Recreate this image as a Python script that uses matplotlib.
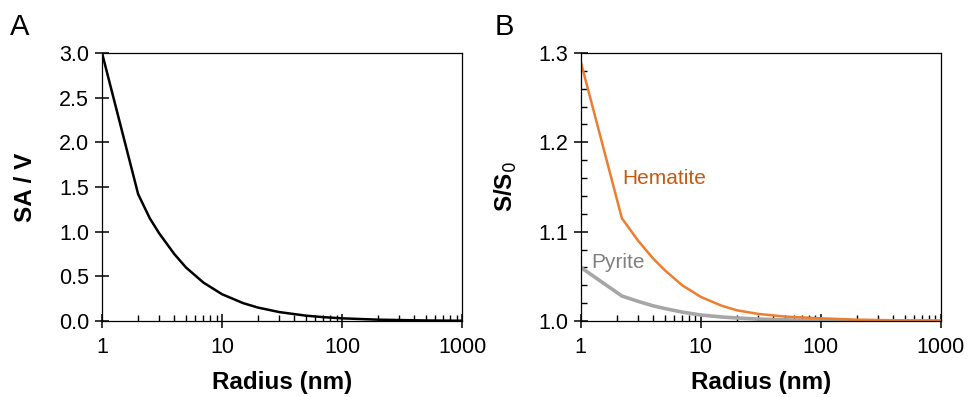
import numpy as np
import matplotlib
matplotlib.use('Agg')
import matplotlib.pyplot as plt
from matplotlib.ticker import FixedLocator, NullFormatter

plt.rcParams['font.family'] = ['Liberation Sans', 'DejaVu Sans']

# Panel A: surface area / volume vs radius
radius_a = [1, 2, 2.5, 3, 4, 5, 7, 10, 15, 20, 30, 50, 70, 100, 200, 500, 1000]
sav = [3.0, 1.42, 1.15, 0.98, 0.75, 0.6, 0.43, 0.3, 0.2, 0.15, 0.1, 0.06, 0.043, 0.03, 0.015, 0.006, 0.003]

# Panel B: solubility ratio vs radius
radius_b = [1, 2.2, 3, 4, 5, 7, 10, 15, 20, 30, 50, 100, 200, 500, 1000]
hematite = [1.29, 1.115, 1.09, 1.07, 1.057, 1.04, 1.027, 1.017, 1.012, 1.008, 1.005, 1.003, 1.0015, 1.0006, 1.0003]
pyrite = [1.06, 1.028, 1.022, 1.017, 1.014, 1.01, 1.0067, 1.0045, 1.0034, 1.0022, 1.0013, 1.0006, 1.0003, 1.0001, 1.0]

xticks = [1, 10, 100, 1000]
xlabels = ['1', '10', '100', '1000']

fig = plt.figure(figsize=(9.68, 3.97), dpi=100)
axA = fig.add_axes([0.1054, 0.1914, 0.3719, 0.6751])
axB = fig.add_axes([0.6000, 0.1914, 0.3719, 0.6751])


def style_axis(ax):
    ax.set_xscale('log')
    ax.set_xlim(1, 1000)
    ax.set_xticks(xticks)
    ax.set_xticklabels(xlabels)
    minors = [m * 10 ** e for e in range(3) for m in range(2, 10)]
    ax.xaxis.set_minor_locator(FixedLocator(minors))
    ax.xaxis.set_minor_formatter(NullFormatter())
    ax.tick_params(axis='x', which='major', direction='inout', length=10.5, width=1.1,
                   labelsize=15.5, pad=6, top=False)
    ax.tick_params(axis='x', which='minor', direction='in', length=4, width=1, top=False)
    ax.tick_params(axis='y', which='major', direction='inout', length=10.5, width=1.1,
                   labelsize=15.5, pad=4, right=False)
    ax.tick_params(axis='y', which='minor', direction='in', length=4, width=1, right=False)
    for s in ax.spines.values():
        s.set_linewidth(0.9)
    ax.set_xlabel('Radius (nm)', fontsize=17.5, fontweight='bold')
    ax.xaxis.set_label_coords(0.5, -0.185)


# panel A
axA.plot(radius_a, sav, color='black', linewidth=1.8)
style_axis(axA)
axA.set_ylim(0, 3.0)
axA.set_yticks(np.arange(0, 3.01, 0.5))
axA.set_yticklabels(['%.1f' % v for v in np.arange(0, 3.01, 0.5)])
axA.set_ylabel('SA / V', fontsize=17.5, fontweight='bold')
axA.yaxis.set_label_coords(-0.18, 0.5)
fig.text(0.0207, 0.932, 'A', fontsize=21, ha='center', va='center')

# panel B
axB.plot(radius_b, pyrite, color='#a6a6a6', linewidth=2.6)
axB.plot(radius_b, hematite, color='#ed7d31', linewidth=1.8)
style_axis(axB)
axB.set_ylim(1.0, 1.3)
axB.set_yticks([1.0, 1.1, 1.2, 1.3])
axB.set_yticklabels(['1.0', '1.1', '1.2', '1.3'])
axB.yaxis.set_minor_locator(FixedLocator([1.0 + 0.02 * i for i in range(1, 15) if i % 5 != 0]))
axB.set_ylabel(r'S/S$_{\mathit{0}}$', fontsize=17.5, fontweight='bold')
axB.yaxis.set_label_coords(-0.171, 0.5)
axB.text(2.21, 1.16, 'Hematite', fontsize=15, color='#c65911', ha='left', va='center')
axB.text(1.22, 1.066, 'Pyrite', fontsize=15, color='#808080', ha='left', va='center')
fig.text(0.521, 0.932, 'B', fontsize=21, ha='center', va='center')

fig.savefig('out.png', dpi=100)
